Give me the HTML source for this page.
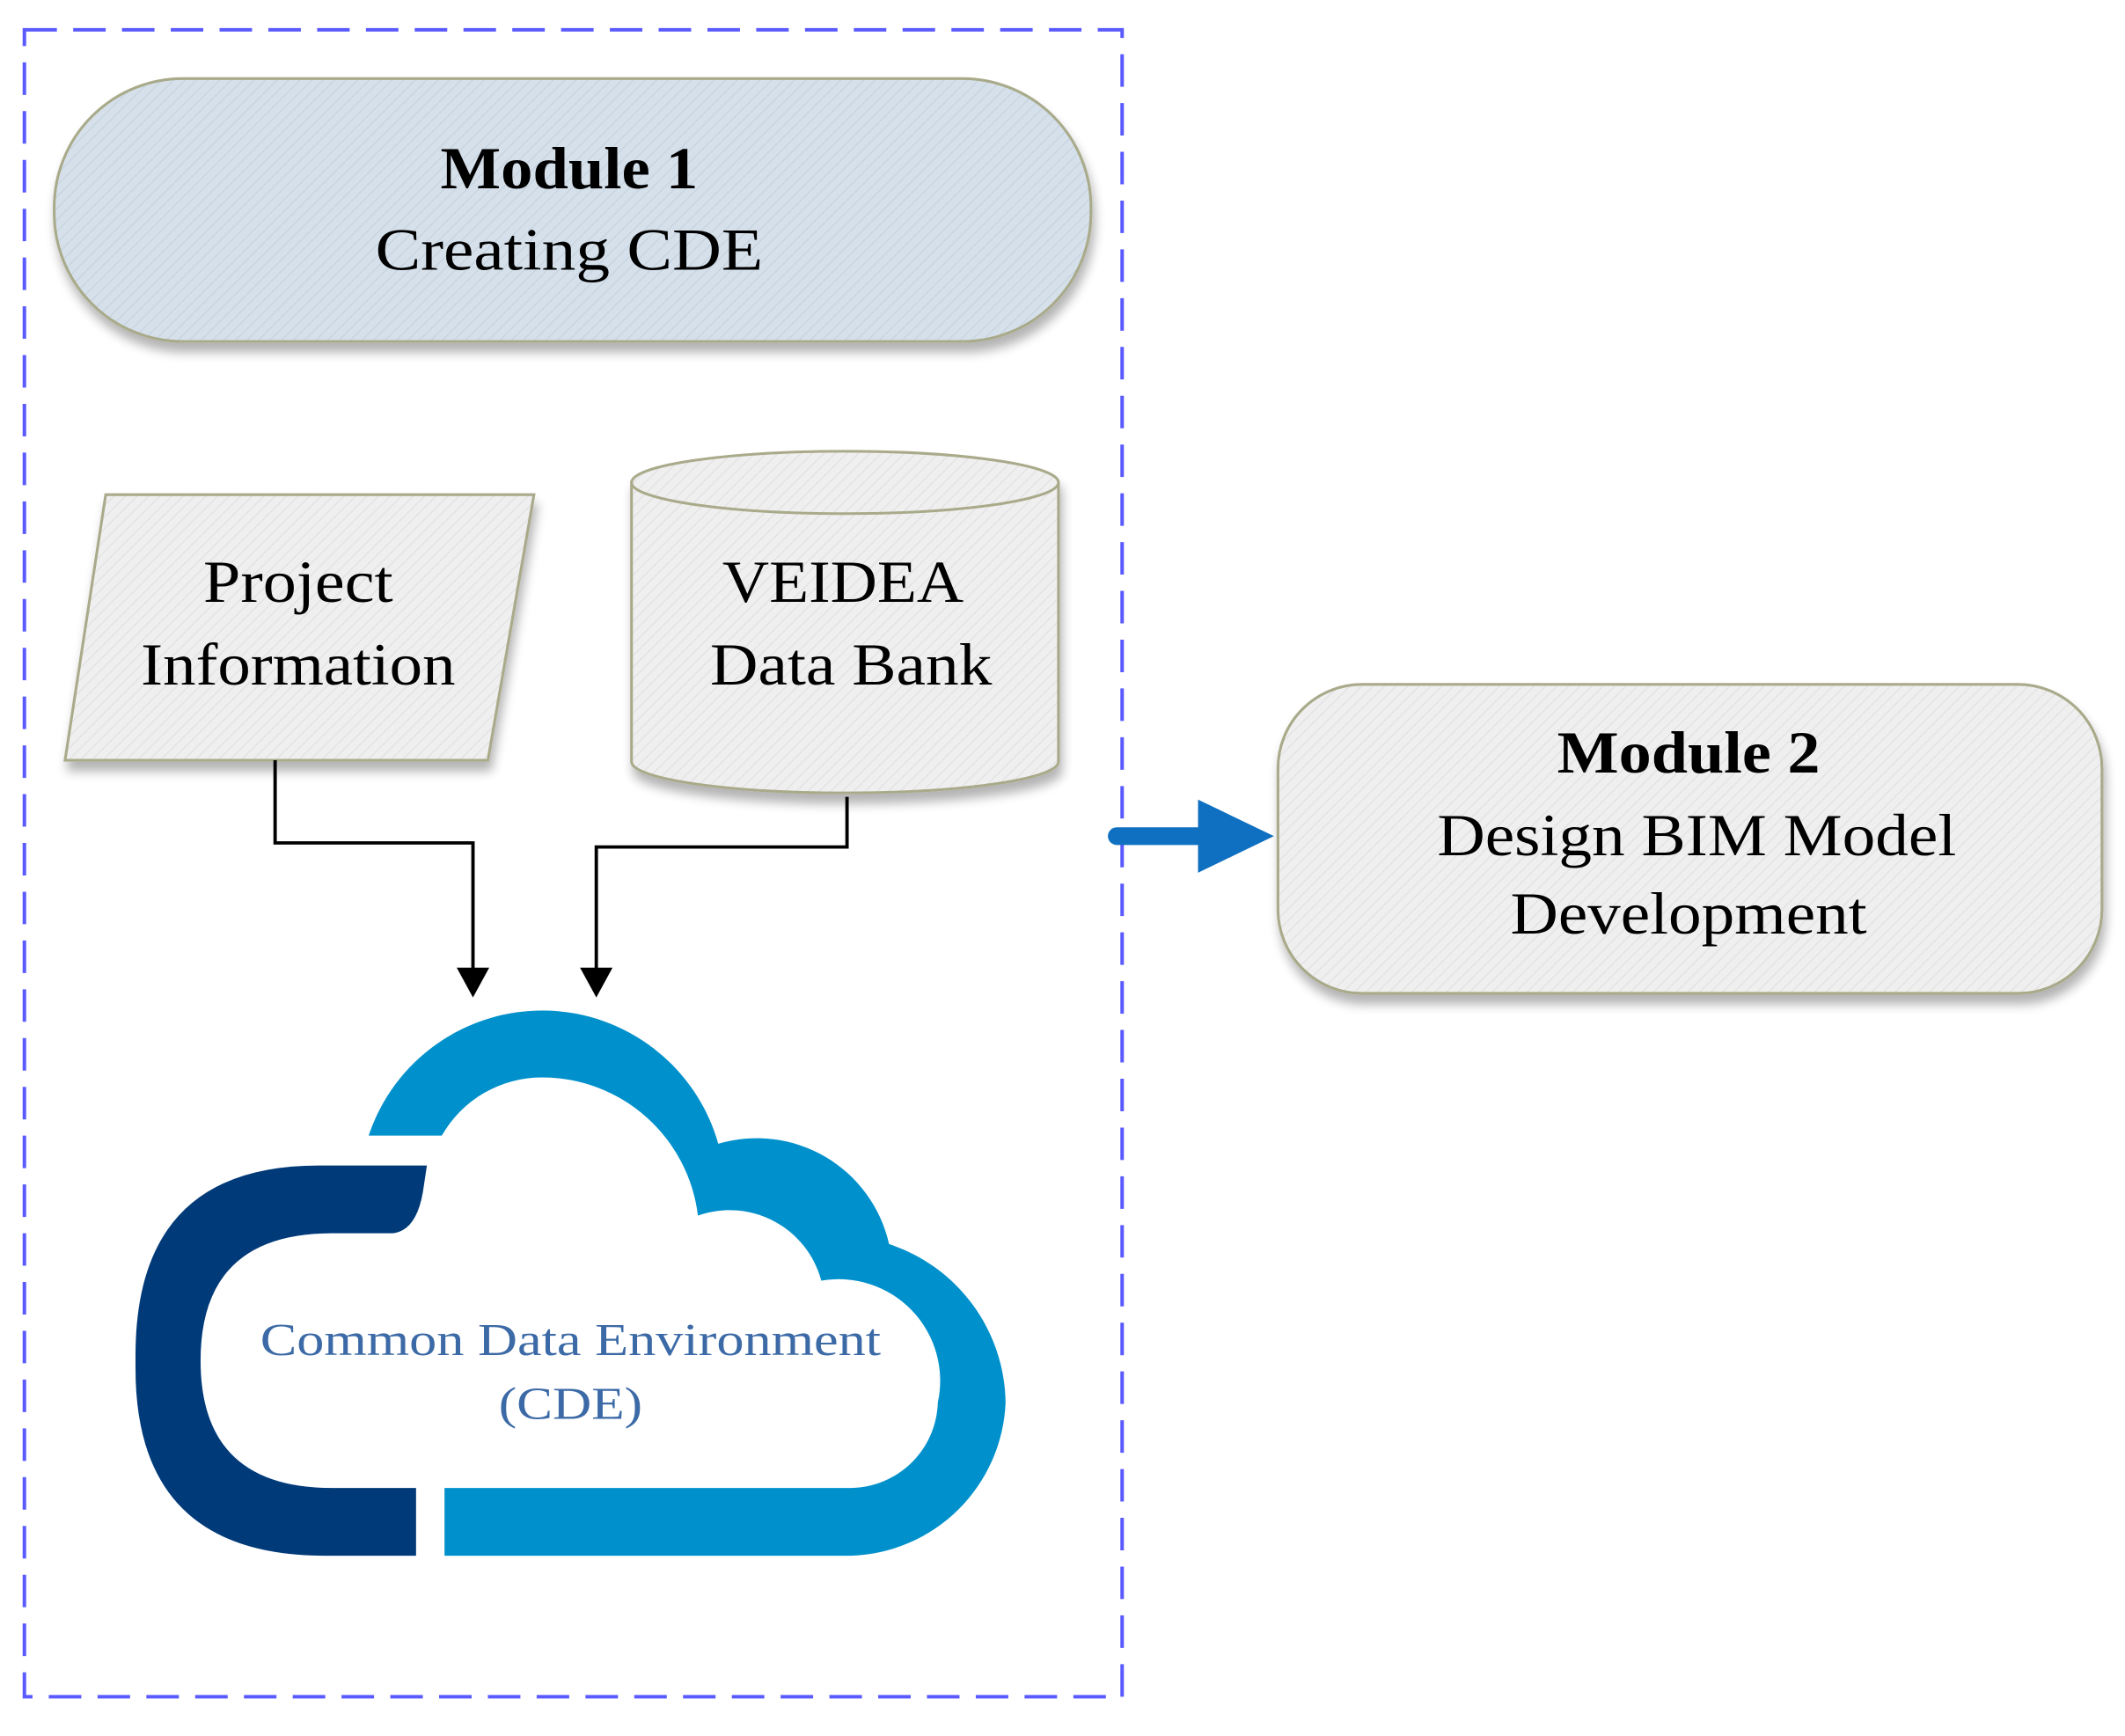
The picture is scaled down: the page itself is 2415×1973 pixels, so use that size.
<!DOCTYPE html>
<html><head><meta charset="utf-8"><style>
html,body{margin:0;padding:0;background:#fff}
svg{display:block}
text{font-family:"Liberation Serif",serif}
</style></head><body>
<svg width="2415" height="1973" viewBox="0 0 1568 1281" xmlns="http://www.w3.org/2000/svg">
<defs>
<pattern id="hb" width="6" height="6" patternUnits="userSpaceOnUse" patternTransform="rotate(45)">
<rect width="6" height="6" fill="#d5e0ea"/><line x1="0" y1="0" x2="0" y2="6" stroke="#c5d2de" stroke-width="1.5"/></pattern>
<pattern id="hg" width="6" height="6" patternUnits="userSpaceOnUse" patternTransform="rotate(45)">
<rect width="6" height="6" fill="#efefef"/><line x1="0" y1="0" x2="0" y2="6" stroke="#e0e0e0" stroke-width="1.5"/></pattern>
<filter id="sh" x="-10%" y="-10%" width="120%" height="130%"><feGaussianBlur in="SourceAlpha" stdDeviation="4"/><feOffset dx="2" dy="7"/><feComponentTransfer><feFuncA type="linear" slope="0.3"/></feComponentTransfer><feMerge><feMergeNode/><feMergeNode in="SourceGraphic"/></feMerge></filter>
</defs>

<rect x="18" y="22" width="810" height="1230" fill="none" stroke="#5a5aff" stroke-width="2.6" stroke-dasharray="24,12"/>

<rect x="40" y="58" width="765" height="194" rx="95" fill="url(#hb)" stroke="#a9aa8a" stroke-width="2" filter="url(#sh)"/>
<text x="420" y="139" text-anchor="middle" font-size="44" font-weight="bold" textLength="190" lengthAdjust="spacingAndGlyphs">Module 1</text>
<text x="420" y="199" text-anchor="middle" font-size="44" textLength="286" lengthAdjust="spacingAndGlyphs">Creating  CDE</text>

<polygon points="78,365 394,365 360,561 48,561" fill="url(#hg)" stroke="#a9aa8a" stroke-width="2" filter="url(#sh)"/>
<text x="220" y="444" text-anchor="middle" font-size="44" textLength="140" lengthAdjust="spacingAndGlyphs">Project</text>
<text x="220" y="505" text-anchor="middle" font-size="44" textLength="232" lengthAdjust="spacingAndGlyphs">Information</text>

<g filter="url(#sh)">
<path d="M466 356 L466 562 A157 23 0 0 0 781 562 L781 356 Z" fill="url(#hg)" stroke="#a9aa8a" stroke-width="2"/>
<ellipse cx="623.5" cy="356" rx="157.5" ry="23" fill="url(#hg)" stroke="#a9aa8a" stroke-width="2"/>
</g>
<text x="622" y="444" text-anchor="middle" font-size="44" textLength="178" lengthAdjust="spacingAndGlyphs">VEIDEA</text>
<text x="628" y="505" text-anchor="middle" font-size="44" textLength="208" lengthAdjust="spacingAndGlyphs">Data Bank</text>

<polyline points="203,561 203,622 349,622 349,718" fill="none" stroke="#000" stroke-width="2.5"/>
<polygon points="337,714 361,714 349,736" fill="#000"/>
<polyline points="625,588 625,625 440,625 440,718" fill="none" stroke="#000" stroke-width="2.5"/>
<polygon points="428,714 452,714 440,736" fill="#000"/>

<line x1="824" y1="617" x2="888" y2="617" stroke="#0f6fc0" stroke-width="13" stroke-linecap="round"/>
<polygon points="884,590 940,617 884,644" fill="#0f6fc0"/>

<rect x="943" y="505" width="608" height="228" rx="62" fill="url(#hg)" stroke="#a9aa8a" stroke-width="2" filter="url(#sh)"/>
<text x="1246" y="570" text-anchor="middle" font-size="44" font-weight="bold" textLength="194" lengthAdjust="spacingAndGlyphs">Module 2</text>
<text x="1252" y="631" text-anchor="middle" font-size="44" textLength="383" lengthAdjust="spacingAndGlyphs">Design BIM Model</text>
<text x="1246" y="689" text-anchor="middle" font-size="44" textLength="263" lengthAdjust="spacingAndGlyphs">Development</text>

<path d="M315 860 L235 860 Q100 860 100 1000 L100 1010 Q100 1148 240 1148 L307 1148 L307 1098 L245 1098 Q148 1098 148 1004 Q148 910 245 910 L290 910 Q307 908 312 880 Z" fill="#003a78"/>
<path d="M272 838 A135 135 0 0 1 530 844 A100 100 0 0 1 656 918 A125 125 0 0 1 742 1035 A118 118 0 0 1 628 1148 L328 1148 L328 1098 L628 1098 A65 65 0 0 0 692 1035 A75 75 0 0 0 606 945 A70 70 0 0 0 515 897 A116 116 0 0 0 400 795 A85 85 0 0 0 326 838 Z" fill="#0090cb"/>
<text x="421" y="1000" text-anchor="middle" font-size="34" fill="#3c6aa6" textLength="458" lengthAdjust="spacingAndGlyphs">Common Data Environment</text>
<text x="421" y="1047" text-anchor="middle" font-size="34" fill="#3c6aa6" textLength="106" lengthAdjust="spacingAndGlyphs">(CDE)</text>
</svg>
</body></html>
